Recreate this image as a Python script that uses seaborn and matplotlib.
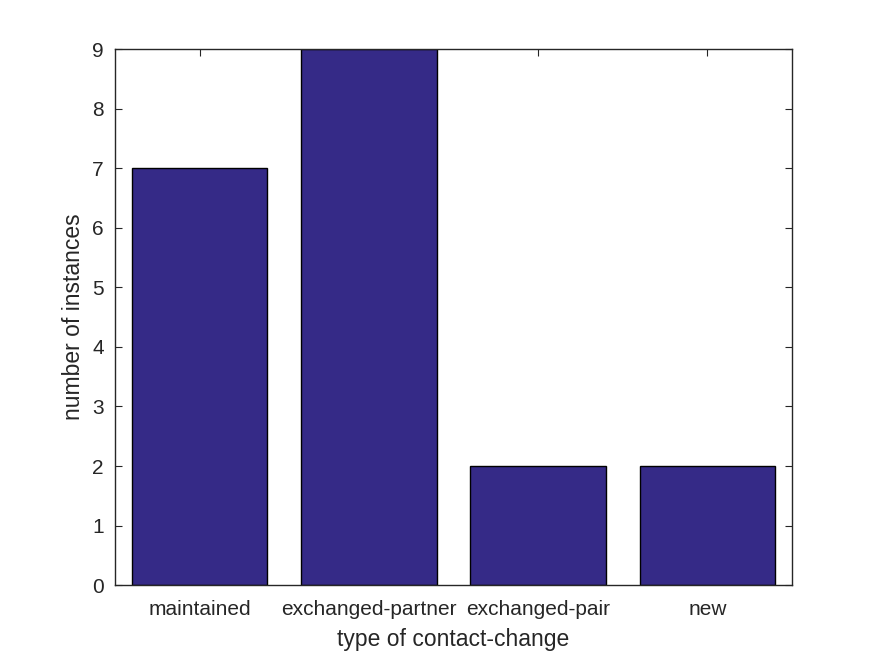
import pandas as pd
import matplotlib
matplotlib.use("Agg")
import matplotlib.pyplot as plt
import seaborn as sns

# data
categories = ["maintained", "exchanged-partner", "exchanged-pair", "new"]
counts = [7, 9, 2, 2]

bar_color = "#352a87"
axis_color = "#262626"

sns.set_theme(style="white")
plt.rcParams["font.family"] = ["Liberation Sans", "DejaVu Sans"]

df = pd.DataFrame({"type": categories, "count": counts})

fig = plt.figure(figsize=(8.75, 6.56), dpi=100)
ax = fig.add_axes([0.1314, 0.108, 0.7737, 0.8173])

sns.barplot(data=df, x="type", y="count", color=bar_color, saturation=1,
            width=0.8, edgecolor="black", linewidth=1.0, ax=ax)

ax.set_xlim(-0.5, 3.5)
ax.set_ylim(0, 9)
ax.set_yticks(range(0, 10))

ax.set_xlabel("type of contact-change", fontsize=16.5, color=axis_color, labelpad=6)
ax.set_ylabel("number of instances", fontsize=16.5, color=axis_color, labelpad=5)

ax.tick_params(axis="both", direction="in", length=5, width=0.8, color=axis_color,
               labelcolor=axis_color, labelsize=15, top=True, right=True,
               bottom=True, left=True)
ax.tick_params(axis="x", pad=11)
ax.tick_params(axis="y", pad=8)
for s in ax.spines.values():
    s.set_visible(True)
    s.set_color(axis_color)
    s.set_linewidth(1.0)

fig.savefig("out.png", dpi=100, facecolor="white")
